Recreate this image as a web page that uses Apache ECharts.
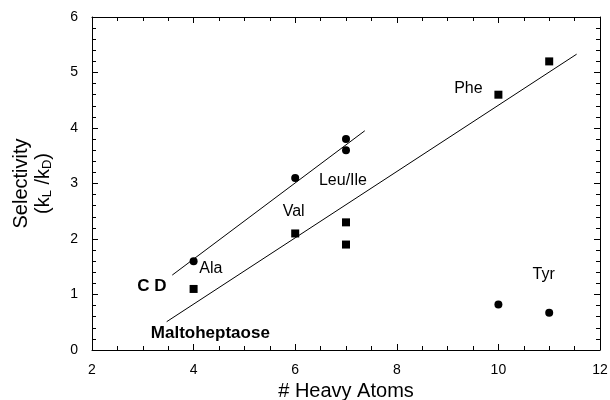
<!DOCTYPE html>
<html>
<head>
<meta charset="utf-8">
<script src="https://cdn.jsdelivr.net/npm/echarts@6/dist/echarts.min.js"></script>
<style>
  html, body { margin: 0; padding: 0; background: #fff; }
  #chart { width: 610px; height: 400px; }
</style>
</head>
<body>
<div id="chart"></div>
<script>
  // measured points
  const cdAtoms = [4, 6, 7, 7, 10, 11];
  const cdSelectivity = [1.6, 3.1, 3.8, 3.6, 0.82, 0.67];
  const maltoAtoms = [4, 6, 7, 7, 10, 11];
  const maltoSelectivity = [1.1, 2.1, 2.3, 1.9, 4.6, 5.2];

  // fitted lines (end points)
  const cdFitX = [3.58, 7.37];
  const cdFitY = [1.35, 3.95];
  const maltoFitX = [3.47, 11.54];
  const maltoFitY = [0.51, 5.33];

  // amino acid labels
  const noteText = ['Ala', 'Val', 'Leu/Ile', 'Phe', 'Tyr'];
  const noteX = [4.34, 5.97, 6.94, 9.41, 10.89];
  const noteY = [1.46, 2.5, 3.06, 4.71, 1.36];

  // series labels (bold)
  const seriesText = ['C D', 'Maltoheptaose'];
  const seriesX = [3.18, 4.33];
  const seriesY = [1.15, 0.3];

  const font = 'Liberation Sans, Arial, Helvetica, sans-serif';
  const zip = (a, b) => a.map((v, i) => [v, b[i]]);

  const chart = echarts.init(document.getElementById('chart'));

  const frameX = {
    type: 'value', min: 2, max: 12, interval: 2,
    axisLine: { show: true, onZero: false, lineStyle: { color: '#000', width: 1 } },
    axisTick: { show: true, inside: true, length: 6, lineStyle: { color: '#000' } },
    minorTick: { show: true, splitNumber: 4, length: 4, lineStyle: { color: '#000' } },
    splitLine: { show: false }
  };
  const frameY = {
    type: 'value', min: 0, max: 6, interval: 1,
    axisLine: { show: true, onZero: false, lineStyle: { color: '#000', width: 1 } },
    axisTick: { show: true, inside: true, length: 6, lineStyle: { color: '#000' } },
    minorTick: { show: true, splitNumber: 5, length: 4, lineStyle: { color: '#000' } },
    splitLine: { show: false }
  };

  chart.setOption({
    backgroundColor: '#fff',
    animation: false,
    grid: { left: 92, right: 10, top: 17, bottom: 50, containLabel: false, outerBoundsMode: 'none' },
    xAxis: [
      Object.assign({}, frameX, {
        position: 'bottom',
        axisLabel: { color: '#000', fontSize: 14, fontFamily: font, margin: 13 },
        name: '# Heavy Atoms',
        nameLocation: 'middle',
        nameGap: 30,
        nameTextStyle: { color: '#000', fontSize: 20, fontFamily: font }
      }),
      Object.assign({}, frameX, { position: 'top', axisLabel: { show: false } })
    ],
    yAxis: [
      Object.assign({}, frameY, {
        position: 'left',
        axisLabel: { color: '#000', fontSize: 14, fontFamily: font, margin: 14 },
        name: '{t|Selectivity}\n{t|(k}{s|L}{t| /k}{s|D}{t|)}',
        nameLocation: 'middle',
        nameRotate: 90,
        nameGap: 38,
        nameTextStyle: {
          color: '#000', fontFamily: font,
          rich: {
            t: { fontSize: 20, fontFamily: font, color: '#000', lineHeight: 22 },
            s: { fontSize: 13, fontFamily: font, color: '#000', lineHeight: 22, verticalAlign: 'bottom', padding: [10, 0, 0, 0] }
          }
        }
      }),
      Object.assign({}, frameY, { position: 'right', axisLabel: { show: false } })
    ],
    series: [
      {
        name: 'CD fit', type: 'line', data: zip(cdFitX, cdFitY),
        symbol: 'none', lineStyle: { color: '#000', width: 1 }, z: 2
      },
      {
        name: 'Maltoheptaose fit', type: 'line', data: zip(maltoFitX, maltoFitY),
        symbol: 'none', lineStyle: { color: '#000', width: 1 }, z: 2
      },
      {
        name: 'CD', type: 'scatter', data: zip(cdAtoms, cdSelectivity),
        symbol: 'circle', symbolSize: 8, itemStyle: { color: '#000', opacity: 1 }, z: 3
      },
      {
        name: 'Maltoheptaose', type: 'scatter', data: zip(maltoAtoms, maltoSelectivity),
        symbol: 'rect', symbolSize: 8, itemStyle: { color: '#000', opacity: 1 }, z: 3
      },
      {
        name: 'notes', type: 'scatter', symbolSize: 0, silent: true,
        itemStyle: { opacity: 1 },
        data: noteText.map((t, i) => ({ name: t, value: [noteX[i], noteY[i]] })),
        label: { show: true, position: 'inside', formatter: '{b}', color: '#000', fontSize: 16, fontFamily: font }
      },
      {
        name: 'series notes', type: 'scatter', symbolSize: 0, silent: true,
        itemStyle: { opacity: 1 },
        data: seriesText.map((t, i) => ({ name: t, value: [seriesX[i], seriesY[i]] })),
        label: { show: true, position: 'inside', formatter: '{b}', color: '#000', fontSize: 17, fontWeight: 'bold', fontFamily: font }
      }
    ]
  });
</script>
</body>
</html>
